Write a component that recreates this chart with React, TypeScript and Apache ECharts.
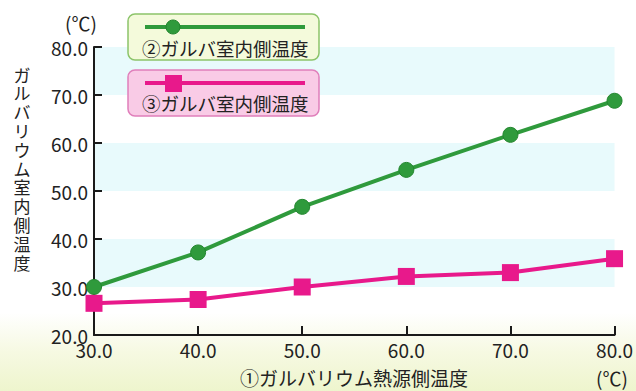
import React, { useEffect, useRef } from "react";
import * as echarts from "echarts";

const xTicks = [30, 40, 50, 60, 70, 80];
const series2Name = "②ガルバ室内側温度";
const series3Name = "③ガルバ室内側温度";
const series2Values = [30.0, 37.2, 46.7, 54.4, 61.7, 68.8];
const series3Values = [26.6, 27.4, 30.0, 32.2, 33.0, 35.9];
const yTitle = "ガルバリウム室内側温度";
const xTitle = "①ガルバリウム熱源側温度";
const unit = "(℃)";

const GREEN = "#2f9a3c";
const GREEN_DARK = "#23862f";
const PINK = "#e8198b";
const FONT = "'Noto Sans CJK JP', 'Noto Sans', sans-serif";

export default function App() {
  const ref = useRef<HTMLDivElement>(null);
  useEffect(() => {
    if (!ref.current) return;
    const chart = echarts.init(ref.current, null, { renderer: "svg" });
    const textStyle = { fontFamily: FONT, fill: "#222", fontSize: 18.5, fontWeight: "normal" };
    const yChars = yTitle.split("").map((ch, i) => ({
      type: "text",
      x: 22,
      y: 74 + i * 18.8,
      style: { ...textStyle, fontSize: 17, text: ch, align: "center", verticalAlign: "middle" },
    }));
    chart.setOption({
      animation: false,
      backgroundColor: {
        type: "linear", x: 0, y: 0, x2: 0, y2: 1,
        colorStops: [
          { offset: 0, color: "#ffffff" },
          { offset: 0.8, color: "#ffffff" },
          { offset: 0.9, color: "#f6f9e2" },
          { offset: 1, color: "#eef5cd" },
        ],
      },
      grid: { left: 94, right: 19, top: 47, bottom: 56, containLabel: false },
      xAxis: {
        type: "value",
        min: 30, max: 80, interval: 10,
        axisLine: { show: true, lineStyle: { color: "#1a1a1a", width: 2 } },
        axisTick: { show: true, inside: true, length: 9, lineStyle: { color: "#1a1a1a", width: 2 } },
        splitLine: { show: false },
        axisLabel: {
          fontFamily: FONT, fontSize: 19, color: "#222", margin: 5,
          formatter: (v: number) => v.toFixed(1),
        },
      },
      yAxis: {
        type: "value",
        min: 20, max: 80, interval: 10,
        axisLine: { show: true, lineStyle: { color: "#1a1a1a", width: 2 } },
        axisTick: { show: true, inside: true, length: 8, lineStyle: { color: "#1a1a1a", width: 2 } },
        splitLine: { show: false },
        splitArea: { show: true, areaStyle: { color: ["rgba(255,255,255,0)", "#e8fafc"] } },
        axisLabel: {
          fontFamily: FONT, fontSize: 19, color: "#222", margin: 6,
          formatter: (v: number) => v.toFixed(1),
        },
      },
      series: [
        {
          name: series2Name,
          type: "line",
          data: xTicks.map((x, i) => [x, series2Values[i]]),
          symbol: "circle",
          symbolSize: 15,
          lineStyle: { color: GREEN, width: 4 },
          itemStyle: { color: GREEN, borderColor: GREEN_DARK, borderWidth: 1 },
          z: 3,
        },
        {
          name: series3Name,
          type: "line",
          data: xTicks.map((x, i) => [x, series3Values[i]]),
          symbol: "rect",
          symbolSize: 17,
          lineStyle: { color: PINK, width: 4 },
          itemStyle: { color: PINK },
          z: 4,
        },
      ],
      graphic: [
        // legend box 2
        { type: "rect", shape: { x: 128, y: 14, width: 191, height: 46, r: 7 },
          style: { fill: "#f4fadb", stroke: "#8cc46a", lineWidth: 1.5 }, z: 10 },
        { type: "line", shape: { x1: 145, y1: 27, x2: 305, y2: 27 },
          style: { stroke: GREEN, lineWidth: 4 }, z: 11 },
        { type: "circle", shape: { cx: 173, cy: 27, r: 7 },
          style: { fill: GREEN, stroke: GREEN_DARK, lineWidth: 1 }, z: 12 },
        { type: "text", x: 142, y: 48, style: { ...textStyle, text: series2Name, verticalAlign: "middle" }, z: 12 },
        // legend box 3
        { type: "rect", shape: { x: 128, y: 70, width: 191, height: 46, r: 7 },
          style: { fill: "#f9cbe6", stroke: "#e07fbb", lineWidth: 1.5 }, z: 10 },
        { type: "line", shape: { x1: 145, y1: 83, x2: 305, y2: 83 },
          style: { stroke: PINK, lineWidth: 4 }, z: 11 },
        { type: "rect", shape: { x: 165, y: 75, width: 17, height: 17 },
          style: { fill: PINK }, z: 12 },
        { type: "text", x: 142, y: 103, style: { ...textStyle, text: series3Name, verticalAlign: "middle" }, z: 12 },
        // units
        { type: "text", x: 81, y: 22, style: { ...textStyle, fontSize: 19, text: unit, align: "center", verticalAlign: "middle" } },
        { type: "text", x: 612, y: 377, style: { ...textStyle, fontSize: 19, text: unit, align: "center", verticalAlign: "middle" } },
        // axis titles
        { type: "text", x: 354, y: 377, style: { ...textStyle, fontSize: 19, text: xTitle, align: "center", verticalAlign: "middle" } },
        ...yChars,
      ],
    });
    return () => chart.dispose();
  }, []);
  return (
    <div
      ref={ref}
      style={{ position: "absolute", left: 0, top: 0, width: 636, height: 391 }}
    />
  );
}
